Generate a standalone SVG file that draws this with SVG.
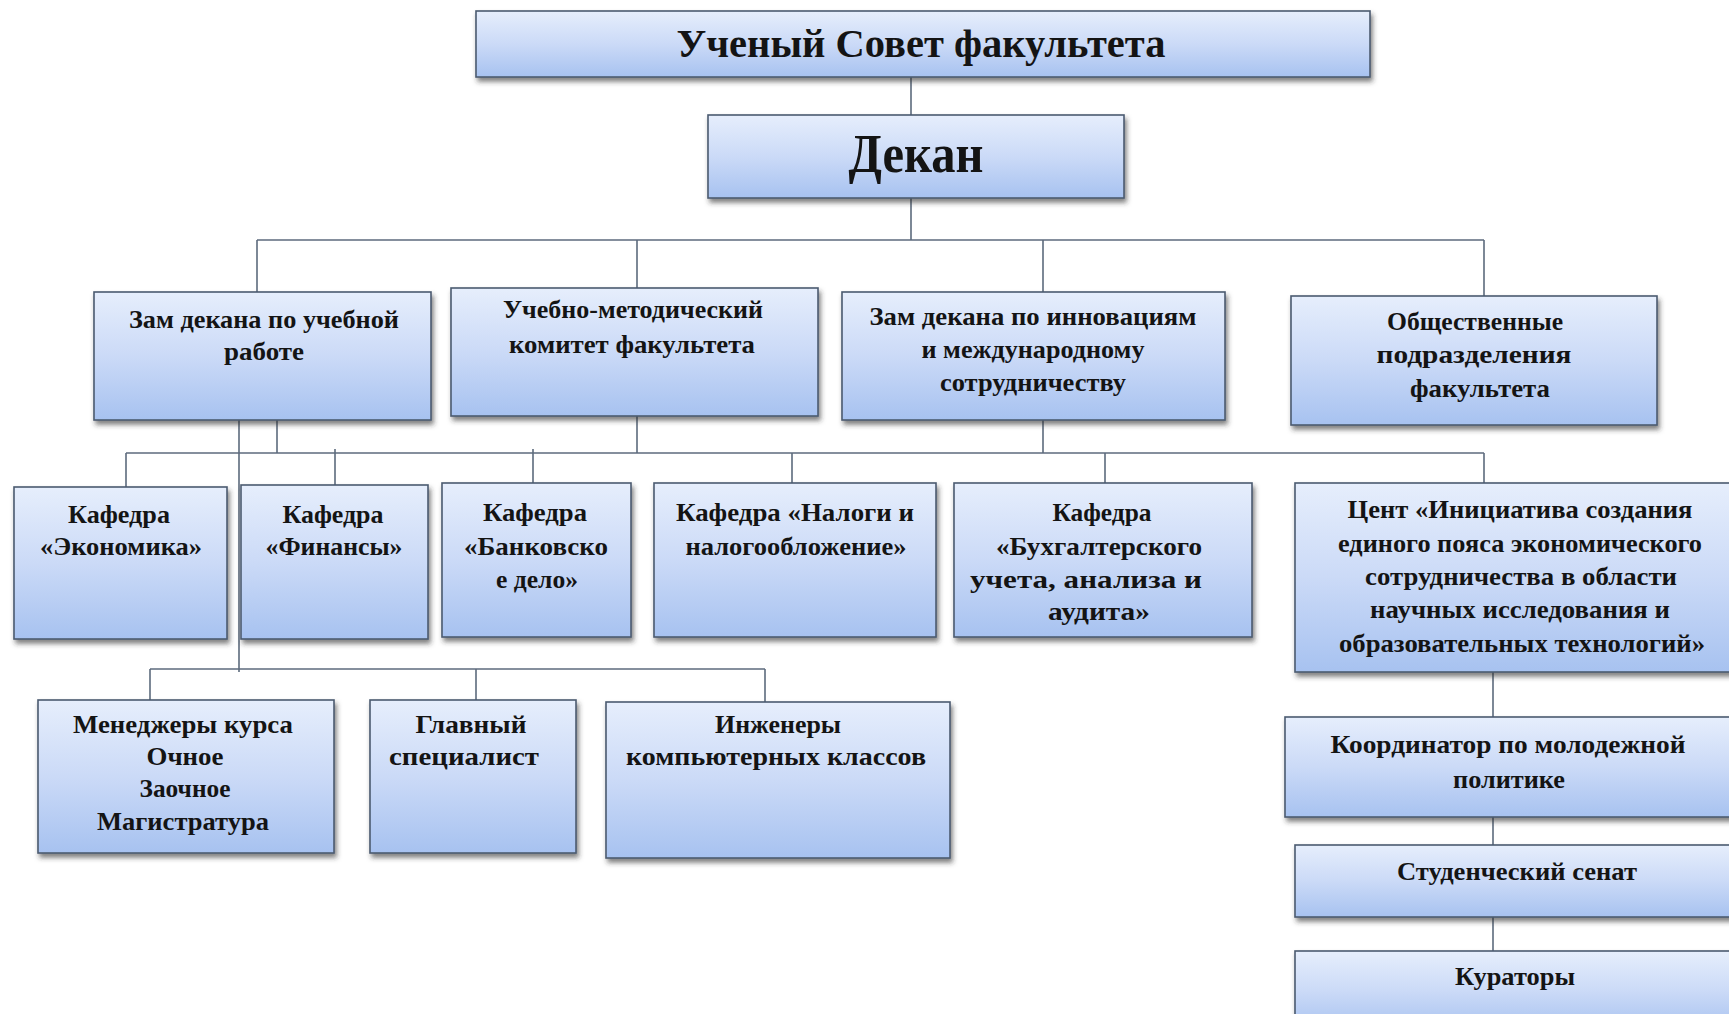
<svg xmlns="http://www.w3.org/2000/svg" width="1729" height="1014" viewBox="0 0 1729 1014">
<defs>
<linearGradient id="g" x1="0" y1="0" x2="0" y2="1">
<stop offset="0" stop-color="#e6eefc"/>
<stop offset="0.5" stop-color="#cbdaf7"/>
<stop offset="1" stop-color="#a7c2f0"/>
</linearGradient>
<filter id="sh" x="-5%" y="-5%" width="115%" height="125%">
<feDropShadow dx="2" dy="4" stdDeviation="2.5" flood-color="#2a2a2a" flood-opacity="0.6"/>
</filter>
</defs>
<style>
.box{fill:url(#g);stroke:#4b5a70;stroke-width:1.6;filter:url(#sh)}
.t{font-family:"Liberation Serif","Times New Roman",serif;font-weight:bold;font-size:25px;fill:#141414;text-anchor:middle}
.big{font-size:40px}
.huge{font-size:54px}
.ln{fill:none;stroke:#5d6b7d;stroke-width:1.6}
</style>
<rect width="1729" height="1014" fill="#ffffff"/>
<g id="connectors">
<path class="ln" d="M911 77V115M911 198V240M257 240H1484M257 240V292M637 240V288M1043 240V292M1484 240V296"/>
<path class="ln" d="M277 420V453M637 416V453M1043 420V453M239 420V672M126 453H1484"/>
<path class="ln" d="M126 453V487M335 449V485M533 449V483M792 453V483M1105 453V483M1484 453V483"/>
<path class="ln" d="M150 669H765M150 669V700M476 669V700M765 669V702"/>
<path class="ln" d="M1493 672V717M1493 817V845M1493 917V951"/>
</g>
<g id="n-sovet"><rect class="box" x="476" y="11" width="894" height="66"/>
<text class="t big" x="921" y="57" textLength="489" lengthAdjust="spacingAndGlyphs">Ученый Совет факультета</text></g>
<g id="n-dekan"><rect class="box" x="708" y="115" width="416" height="83"/>
<text class="t huge" x="916" y="172" textLength="135" lengthAdjust="spacingAndGlyphs">Декан</text></g>
<g id="n-zam-ucheb"><rect class="box" x="94" y="292" width="337" height="128"/>
<text class="t" x="264" y="328" textLength="270" lengthAdjust="spacingAndGlyphs">Зам декана по учебной</text>
<text class="t" x="264" y="360" textLength="80" lengthAdjust="spacingAndGlyphs">работе</text></g>
<g id="n-umk"><rect class="box" x="451" y="288" width="367" height="128"/>
<text class="t" x="633" y="318" textLength="260" lengthAdjust="spacingAndGlyphs">Учебно-методический</text>
<text class="t" x="632" y="353" textLength="246" lengthAdjust="spacingAndGlyphs">комитет факультета</text></g>
<g id="n-zam-innov"><rect class="box" x="842" y="292" width="383" height="128"/>
<text class="t" x="1033" y="325" textLength="327" lengthAdjust="spacingAndGlyphs">Зам декана по инновациям</text>
<text class="t" x="1033" y="358" textLength="223" lengthAdjust="spacingAndGlyphs">и международному</text>
<text class="t" x="1033" y="391" textLength="186" lengthAdjust="spacingAndGlyphs">сотрудничеству</text></g>
<g id="n-obsh"><rect class="box" x="1291" y="296" width="366" height="129"/>
<text class="t" x="1475" y="330" textLength="176" lengthAdjust="spacingAndGlyphs">Общественные</text>
<text class="t" x="1474" y="363" textLength="195" lengthAdjust="spacingAndGlyphs">подразделения</text>
<text class="t" x="1480" y="397" textLength="140" lengthAdjust="spacingAndGlyphs">факультета</text></g>
<g id="n-econ"><rect class="box" x="14" y="487" width="213" height="152"/>
<text class="t" x="119" y="523" textLength="102" lengthAdjust="spacingAndGlyphs">Кафедра</text>
<text class="t" x="121" y="555" textLength="162" lengthAdjust="spacingAndGlyphs">«Экономика»</text></g>
<g id="n-fin"><rect class="box" x="241" y="485" width="187" height="154"/>
<text class="t" x="333" y="523" textLength="101" lengthAdjust="spacingAndGlyphs">Кафедра</text>
<text class="t" x="334" y="555" textLength="137" lengthAdjust="spacingAndGlyphs">«Финансы»</text></g>
<g id="n-bank"><rect class="box" x="442" y="483" width="189" height="154"/>
<text class="t" x="535" y="521" textLength="104" lengthAdjust="spacingAndGlyphs">Кафедра</text>
<text class="t" x="536" y="555" textLength="144" lengthAdjust="spacingAndGlyphs">«Банковско</text>
<text class="t" x="537" y="588" textLength="82" lengthAdjust="spacingAndGlyphs">е дело»</text></g>
<g id="n-nalog"><rect class="box" x="654" y="483" width="282" height="154"/>
<text class="t" x="795" y="521" textLength="238" lengthAdjust="spacingAndGlyphs">Кафедра «Налоги и</text>
<text class="t" x="796" y="555" textLength="221" lengthAdjust="spacingAndGlyphs">налогообложение»</text></g>
<g id="n-buh"><rect class="box" x="954" y="483" width="298" height="154"/>
<text class="t" x="1102" y="521" textLength="99" lengthAdjust="spacingAndGlyphs">Кафедра</text>
<text class="t" x="1099" y="555" textLength="206" lengthAdjust="spacingAndGlyphs">«Бухгалтерского</text>
<text class="t" x="1086" y="588" textLength="232" lengthAdjust="spacingAndGlyphs">учета, анализа и</text>
<text class="t" x="1099" y="620" textLength="102" lengthAdjust="spacingAndGlyphs">аудита»</text></g>
<g id="n-cent"><rect class="box" x="1295" y="483" width="450" height="189"/>
<text class="t" x="1520" y="518" textLength="345" lengthAdjust="spacingAndGlyphs">Цент «Инициатива  создания</text>
<text class="t" x="1520" y="552" textLength="364" lengthAdjust="spacingAndGlyphs">единого  пояса экономического</text>
<text class="t" x="1521" y="585" textLength="312" lengthAdjust="spacingAndGlyphs">сотрудничества  в области</text>
<text class="t" x="1520" y="618" textLength="300" lengthAdjust="spacingAndGlyphs">научных исследования  и</text>
<text class="t" x="1522" y="652" textLength="366" lengthAdjust="spacingAndGlyphs">образовательных  технологий»</text></g>
<g id="n-manag"><rect class="box" x="38" y="700" width="296" height="153"/>
<text class="t" x="183" y="733" textLength="220" lengthAdjust="spacingAndGlyphs">Менеджеры курса</text>
<text class="t" x="185" y="765" textLength="77" lengthAdjust="spacingAndGlyphs">Очное</text>
<text class="t" x="185" y="797" textLength="91" lengthAdjust="spacingAndGlyphs">Заочное</text>
<text class="t" x="183" y="830" textLength="172" lengthAdjust="spacingAndGlyphs">Магистратура</text></g>
<g id="n-glav"><rect class="box" x="370" y="700" width="206" height="153"/>
<text class="t" x="471" y="733" textLength="111" lengthAdjust="spacingAndGlyphs">Главный</text>
<text class="t" x="464" y="765" textLength="150" lengthAdjust="spacingAndGlyphs">специалист</text></g>
<g id="n-ingen"><rect class="box" x="606" y="702" width="344" height="156"/>
<text class="t" x="778" y="733" textLength="126" lengthAdjust="spacingAndGlyphs">Инженеры</text>
<text class="t" x="776" y="765" textLength="300" lengthAdjust="spacingAndGlyphs">компьютерных классов</text></g>
<g id="n-coord"><rect class="box" x="1285" y="717" width="460" height="100"/>
<text class="t" x="1508" y="753" textLength="355" lengthAdjust="spacingAndGlyphs">Координатор  по  молодежной</text>
<text class="t" x="1509" y="788" textLength="112" lengthAdjust="spacingAndGlyphs">политике</text></g>
<g id="n-senat"><rect class="box" x="1295" y="845" width="450" height="72"/>
<text class="t" x="1517" y="880" textLength="240" lengthAdjust="spacingAndGlyphs">Студенческий  сенат</text></g>
<g id="n-curat"><rect class="box" x="1295" y="951" width="450" height="80"/>
<text class="t" x="1515" y="985" textLength="120" lengthAdjust="spacingAndGlyphs">Кураторы</text></g>
</svg>
